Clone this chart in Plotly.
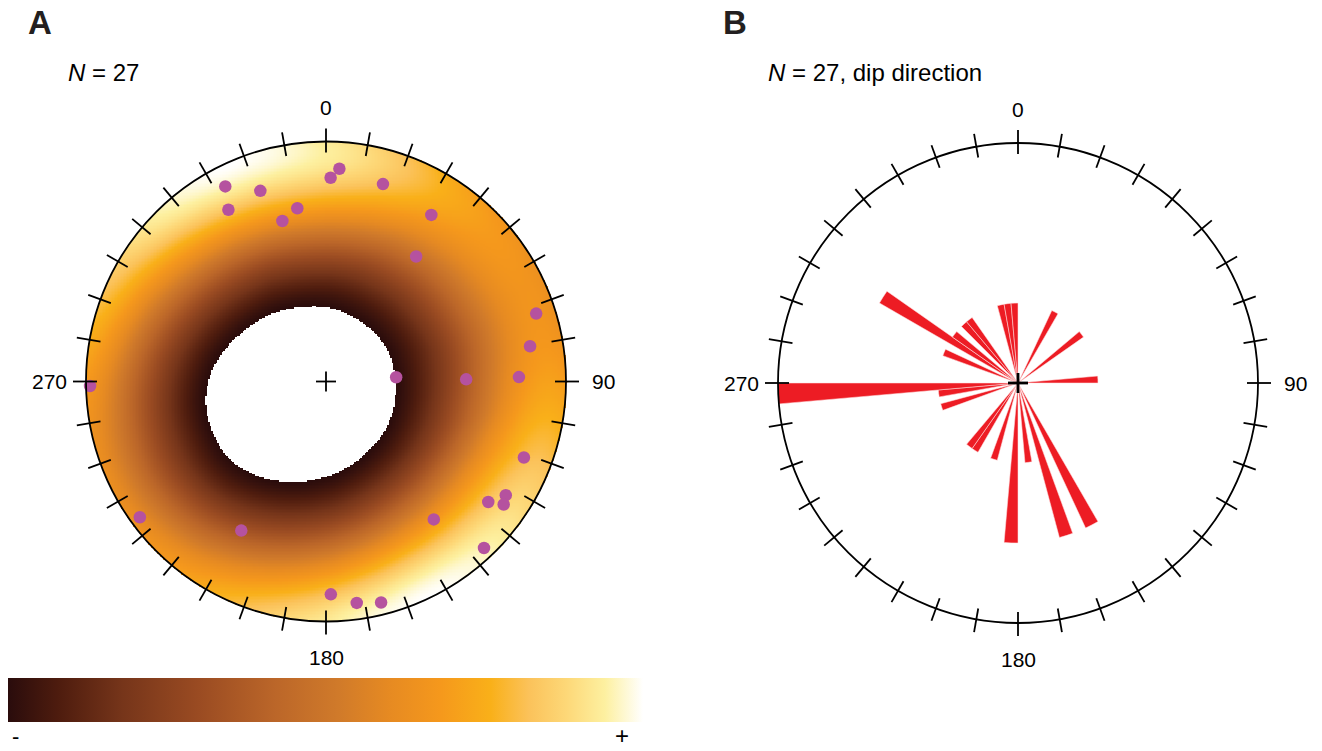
import numpy as np
import plotly.graph_objects as go

W, H = 1322, 751

# ---------------- data: poles to planes (trend, plunge in degrees) ----------------
pole_trend = [332.7, 341.0, 330.4, 350.6, 344.8, 1.3, 3.6, 16.1, 32.3, 35.8,
              72.1, 80.2, 88.7, 89.1, 86.5, 268.9, 111.0, 122.3, 126.6, 124.7,
              142.0, 136.5, 233.9, 209.6, 178.7, 172.1, 166.0]
pole_plunge = [9.4, 17.1, 18.8, 27.7, 31.3, 16.2, 12.2, 15.5, 19.0, 36.0,
               8.8, 14.8, 20.7, 41.2, 66.1, 1.9, 12.7, 12.4, 16.9, 10.9,
               27.9, 4.9, 4.5, 29.3, 12.3, 7.6, 5.7]
rose_bin_width = 5
label_angles = [0, 90, 180, 270]
label_texts = ["0", "90", "180", "270"]
n_text_a = "<i>N</i> = 27"
n_text_b = "<i>N</i> = 27, dip direction"

FONT = "Liberation Sans, Arial, Helvetica, sans-serif"
PX = 240.0          # pixels per unit radius
SPAN = 1.25         # axis half-range in units
A_C = (326, 381.5)  # panel centres in pixels
B_C = (1018, 383)

tr = np.radians(pole_trend)
pl = np.radians(pole_plunge)

# equal-area (Schmidt) lower-hemisphere projection of the poles
r_proj = np.sqrt(2) * np.sin((np.pi / 2 - pl) / 2)
px_ = r_proj * np.sin(tr)
py_ = r_proj * np.cos(tr)

# ---------------- density (Fisher kernel, axial, smoothed around the net) ----------------
kappa = 2.0
keep = 0.45          # share of the raw field kept; rest is its ring (radial) mean
mask_frac = 0.23
gamma = 1.2
n = 321
g = np.linspace(-1, 1, n)
X, Y = np.meshgrid(g, g)
R = np.hypot(X, Y)
inside = R <= 1.0
th = 2 * np.arcsin(np.clip(R / np.sqrt(2), 0, 1))
az = np.arctan2(X, Y)
gE = np.sin(th) * np.sin(az)
gN = np.sin(th) * np.cos(az)
gD = np.cos(th)
pE = np.cos(pl) * np.sin(tr)
pN = np.cos(pl) * np.cos(tr)
pD = np.sin(pl)
dots = np.abs(gE[..., None] * pE + gN[..., None] * pN + gD[..., None] * pD)
dens = np.exp(kappa * (dots - 1)).sum(axis=-1)

nb = 80
rbin = np.minimum((R * nb).astype(int), nb - 1)
ring_sum = np.bincount(rbin[inside], weights=dens[inside], minlength=nb)
ring_cnt = np.bincount(rbin[inside], minlength=nb)
ring_mean = ring_sum / np.maximum(ring_cnt, 1)
ring_c = (np.arange(nb) + 0.5) / nb
radial = np.interp(R, ring_c, ring_mean)
field = keep * dens + (1 - keep) * radial

lo, hi = field[inside].min(), field[inside].max()
thr = lo + mask_frac * (hi - lo)
level = np.clip((field - thr) / (hi - thr), 0, 1) ** gamma
Z = np.where(inside & (field >= thr), level, np.nan)

colorscale = [
    [0.00, "#2a0c0c"], [0.08, "#4e1c0e"], [0.18, "#76351a"], [0.30, "#9a4b22"],
    [0.42, "#bb6629"], [0.52, "#d07a2a"], [0.60, "#e68a22"], [0.68, "#f5981c"],
    [0.76, "#f9b019"], [0.82, "#fbc25a"], [0.88, "#fdd878"], [0.94, "#fdf0a0"],
    [1.00, "#ffffff"],
]

# ---------------- rose (dip direction = pole trend + 180) ----------------
dipdir = (np.array(pole_trend) + 180.0) % 360.0
edges = np.arange(0, 360 + rose_bin_width, rose_bin_width)
counts, _ = np.histogram(dipdir, bins=edges)
centers = edges[:-1] + rose_bin_width / 2
nz = counts > 0


def dom_x(cx, half):
    return [(cx - half) / W, (cx + half) / W]


def dom_y(cy, half):
    return [(H - (cy + half)) / H, (H - (cy - half)) / H]


fig = go.Figure()

fig.add_trace(go.Heatmap(
    x=g, y=g, z=Z, colorscale=colorscale, zmin=0, zmax=1, zsmooth=False,
    hoverinfo="skip", xaxis="x", yaxis="y",
    colorbar=dict(orientation="h", x=325.5 / W, xanchor="center",
                  y=(H - 700) / H, yanchor="middle",
                  lenmode="pixels", len=635, thicknessmode="pixels", thickness=44,
                  showticklabels=False, ticks="", outlinewidth=0, xpad=0, ypad=0),
))

fig.add_trace(go.Scatter(
    x=px_, y=py_, mode="markers", xaxis="x", yaxis="y",
    marker=dict(size=12.5, color="#b5529f", line=dict(width=0)),
    hoverinfo="skip", showlegend=False,
))

fig.add_trace(go.Barpolar(
    r=counts[nz], theta=centers[nz], width=[rose_bin_width] * int(nz.sum()),
    marker=dict(color="#ed1c24", line=dict(color="rgba(255,225,225,0.9)", width=0.6)),
    subplot="polar", hoverinfo="skip", showlegend=False,
))

shapes = []
annotations = []

for ax_x, ax_y, thick, cross in (("x", "y", 1.8, 1.8), ("x2", "y2", 1.8, 2.8)):
    shapes.append(dict(type="circle", xref=ax_x, yref=ax_y, x0=-1, x1=1, y0=-1, y1=1,
                       line=dict(color="black", width=thick), layer="above"))
    r_in, r_out = 1 - 11 / PX, 1 + 13 / PX
    for a in range(0, 360, 10):
        t = np.radians(a)
        shapes.append(dict(type="line", xref=ax_x, yref=ax_y,
                           x0=r_in * np.sin(t), y0=r_in * np.cos(t),
                           x1=r_out * np.sin(t), y1=r_out * np.cos(t),
                           line=dict(color="black", width=thick), layer="above"))
    arm = 10 / PX
    shapes.append(dict(type="line", xref=ax_x, yref=ax_y, x0=-arm, x1=arm, y0=0, y1=0,
                       line=dict(color="black", width=cross), layer="above"))
    shapes.append(dict(type="line", xref=ax_x, yref=ax_y, x0=0, x1=0, y0=-arm, y1=arm,
                       line=dict(color="black", width=cross), layer="above"))
    # direction labels
    for ang, txt in zip(label_angles, label_texts):
        if ang == 0:
            annotations.append(dict(x=0, y=1 + 34 / PX, xref=ax_x, yref=ax_y, text=txt,
                                    showarrow=False, xanchor="center", yanchor="middle"))
        elif ang == 180:
            annotations.append(dict(x=0, y=-1 - 36 / PX, xref=ax_x, yref=ax_y, text=txt,
                                    showarrow=False, xanchor="center", yanchor="middle"))
        elif ang == 90:
            annotations.append(dict(x=1 + 24 / PX, y=0, xref=ax_x, yref=ax_y, text=txt,
                                    showarrow=False, xanchor="left", yanchor="middle"))
        else:
            annotations.append(dict(x=-1 - 17 / PX, y=0, xref=ax_x, yref=ax_y, text=txt,
                                    showarrow=False, xanchor="right", yanchor="middle"))

for a in annotations:
    a["font"] = dict(family=FONT, size=21, color="black")

annotations += [
    dict(x=26 / W, y=1 - 22 / H, xref="paper", yref="paper", text="<b>A</b>", showarrow=False,
         xanchor="left", yanchor="middle", font=dict(family=FONT, size=33, color="#231f20")),
    dict(x=721 / W, y=1 - 22 / H, xref="paper", yref="paper", text="<b>B</b>", showarrow=False,
         xanchor="left", yanchor="middle", font=dict(family=FONT, size=33, color="#231f20")),
    dict(x=66 / W, y=1 - 73 / H, xref="paper", yref="paper", text=n_text_a, showarrow=False,
         xanchor="left", yanchor="middle", font=dict(family=FONT, size=24, color="black")),
    dict(x=766 / W, y=1 - 73 / H, xref="paper", yref="paper", text=n_text_b, showarrow=False,
         xanchor="left", yanchor="middle", font=dict(family=FONT, size=24, color="black")),
    dict(x=15 / W, y=0, xref="paper", yref="paper", text="-", showarrow=False,
         xanchor="center", yanchor="bottom", font=dict(family=FONT, size=22, color="black")),
    dict(x=622 / W, y=0, xref="paper", yref="paper", text="+", showarrow=False,
         xanchor="center", yanchor="bottom", font=dict(family=FONT, size=24, color="black")),
]

half = SPAN * PX
axis_common = dict(visible=False, showgrid=False, zeroline=False, range=[-SPAN, SPAN], fixedrange=True)

fig.update_layout(
    width=W, height=H, margin=dict(l=0, r=0, t=0, b=0),
    paper_bgcolor="white", plot_bgcolor="rgba(0,0,0,0)", showlegend=False,
    xaxis=dict(domain=dom_x(A_C[0], half), anchor="y", **axis_common),
    yaxis=dict(domain=dom_y(A_C[1], half), anchor="x", **axis_common),
    xaxis2=dict(domain=dom_x(B_C[0], half), anchor="y2", **axis_common),
    yaxis2=dict(domain=dom_y(B_C[1], half), anchor="x2", **axis_common),
    polar=dict(
        domain=dict(x=dom_x(B_C[0], PX), y=dom_y(B_C[1], PX)),
        bgcolor="rgba(0,0,0,0)",
        radialaxis=dict(visible=False, range=[0, 3]),
        angularaxis=dict(visible=False, rotation=90, direction="clockwise"),
        bargap=0,
    ),
    shapes=shapes, annotations=annotations,
)

fig.write_html("out.html")
